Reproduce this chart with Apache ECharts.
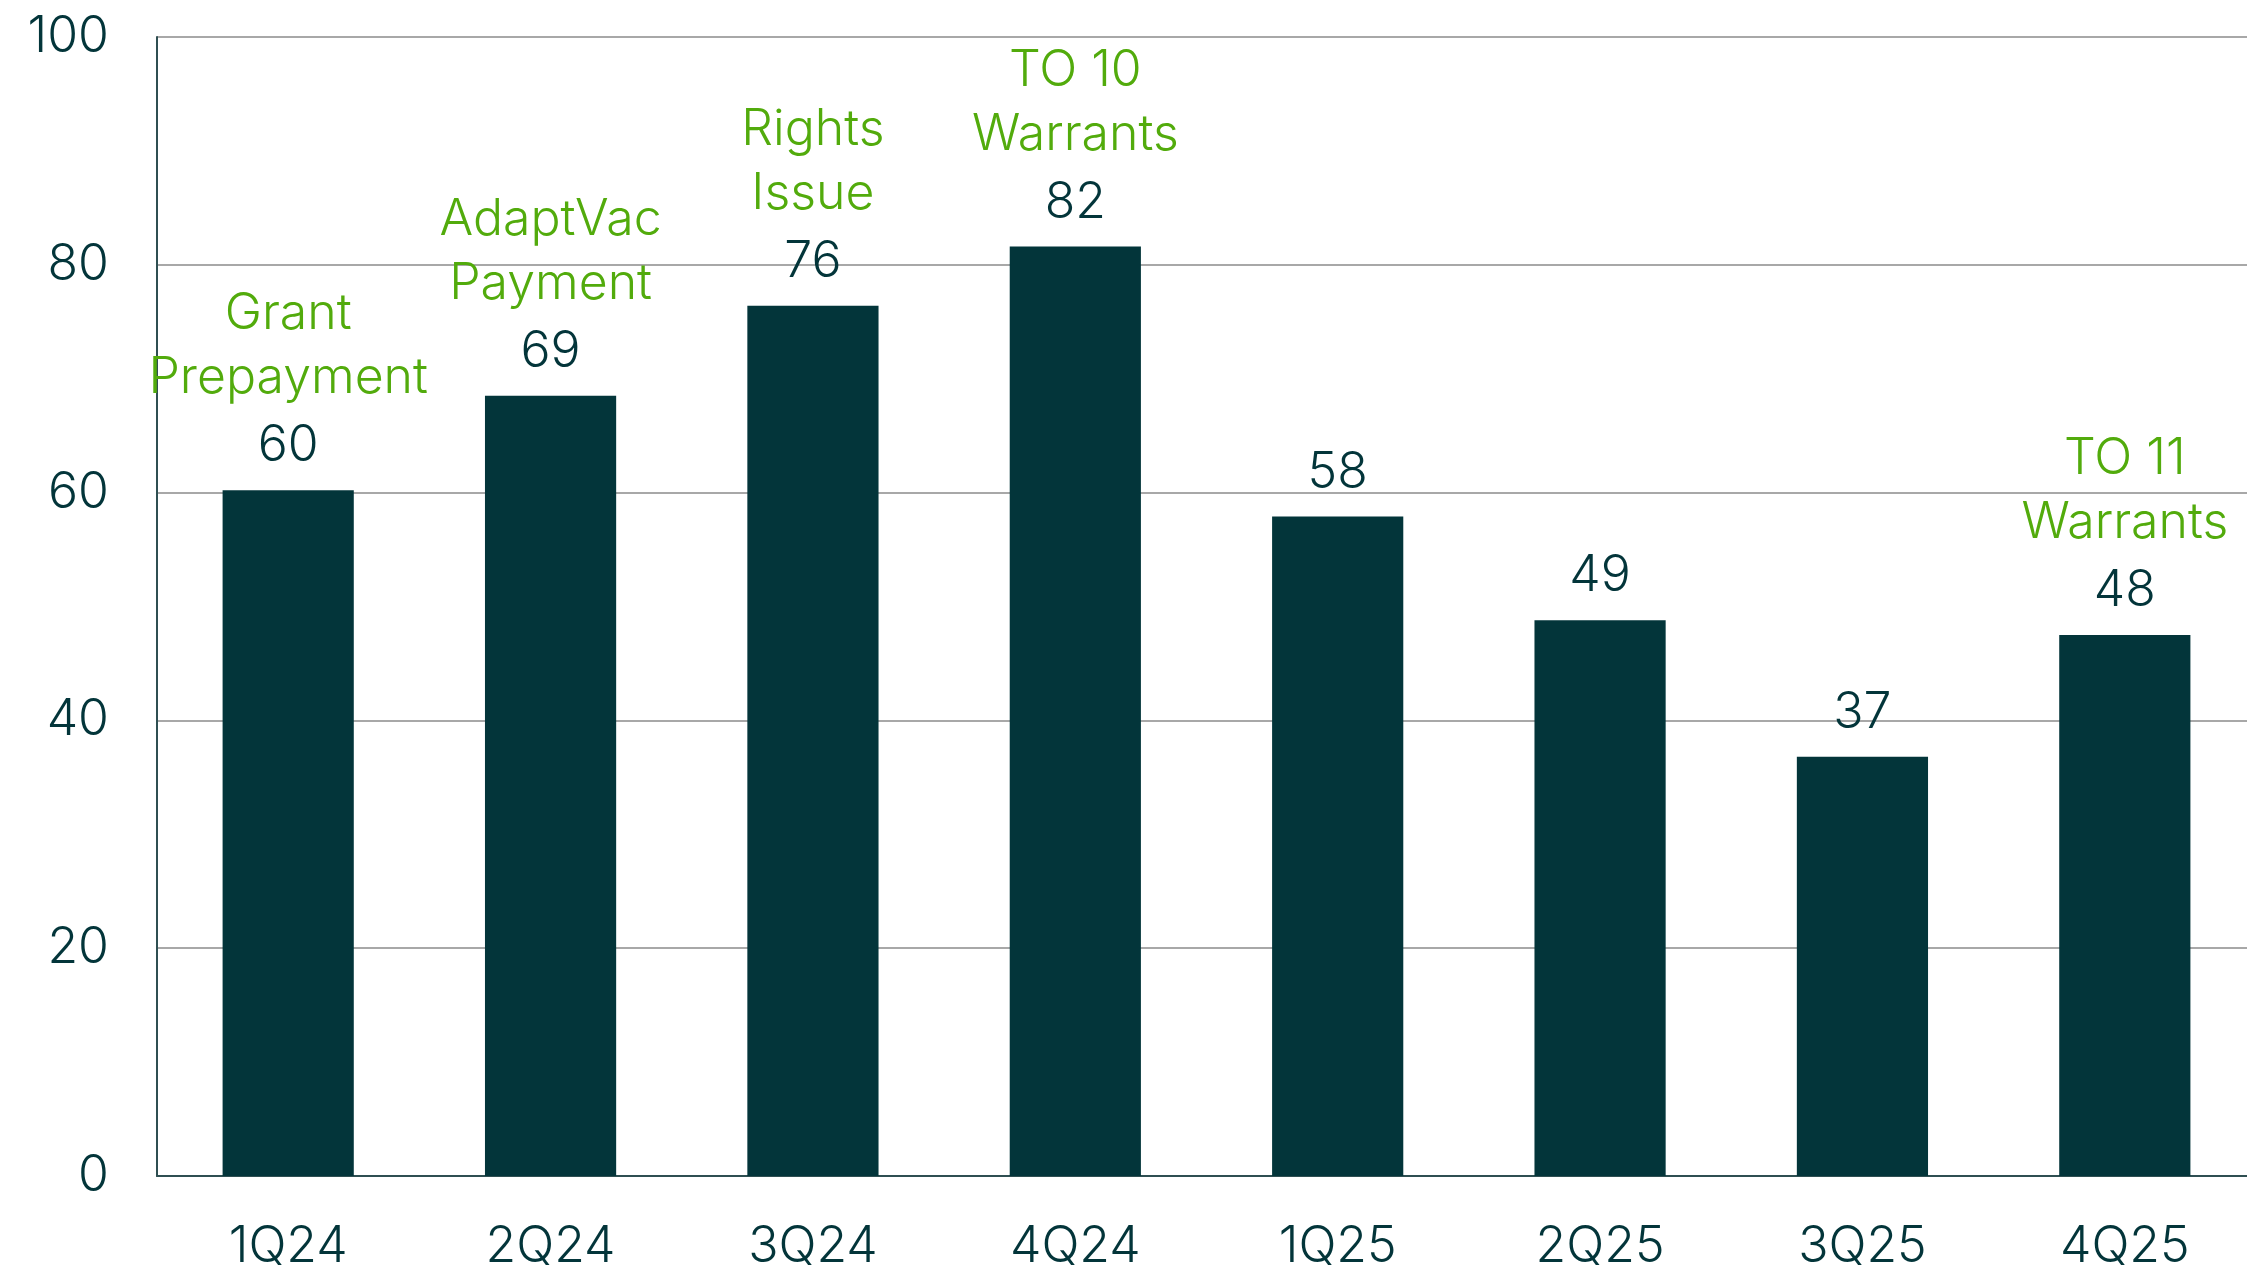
<!DOCTYPE html>
<html>
<head>
<meta charset="utf-8">
<script src="https://cdn.jsdelivr.net/npm/echarts@6/dist/echarts.min.js"></script>
<style>
  html, body { margin: 0; padding: 0; background: #fff; }
  #chart { width: 2247px; height: 1269px; }
</style>
</head>
<body>
<div id="chart"></div>
<script>
// quarters on the x axis
var quarters = ['1Q24', '2Q24', '3Q24', '4Q24', '1Q25', '2Q25', '3Q25', '4Q25']
// bar heights
var values = [60.2, 68.5, 76.4, 81.6, 57.9, 48.8, 36.8, 47.5]
// printed value labels
var valueLabels = ['60', '69', '76', '82', '58', '49', '37', '48']
// green notes above some bars
var notes = [
  ['Grant', 'Prepayment'],
  ['AdaptVac', 'Payment'],
  ['Rights', 'Issue'],
  ['TO 10', 'Warrants'],
  [],
  [],
  [],
  ['TO 11', 'Warrants']
]
var yTicks = [0, 20, 40, 60, 80, 100]

var dark = '#03353a'
var green = '#52ab0c'
var font = 'Inter'

var chart = echarts.init(document.getElementById('chart'))

// the plot runs a bit past the right edge of the canvas, so no outer bounds clamping
var option = {
  animation: false,
  grid: { left: 157, width: 2099, top: 37, bottom: 93, outerBoundsMode: 'none' },
  xAxis: {
    type: 'category',
    data: quarters,
    axisTick: { show: false },
    axisLine: { lineStyle: { color: '#2f4f52', width: 2 } },
    axisLabel: {
      margin: 46,
      color: dark,
      fontFamily: font,
      fontWeight: 300,
      fontSize: 50
    }
  },
  yAxis: {
    type: 'value',
    min: yTicks[0],
    max: yTicks[yTicks.length - 1],
    interval: 20,
    axisLine: { show: true, lineStyle: { color: '#2f4f52', width: 2 } },
    axisTick: { show: false },
    splitLine: { lineStyle: { color: '#a8a8a8', width: 2 } },
    axisLabel: {
      margin: 48,
      color: dark,
      fontFamily: font,
      fontWeight: 300,
      fontSize: 50
    }
  },
  series: [
    {
      type: 'bar',
      data: values,
      barWidth: '50%',
      itemStyle: { color: dark },
      label: {
        show: true,
        position: 'top',
        distance: 8,
        formatter: function (p) {
          var lines = notes[p.dataIndex].map(function (t) { return '{n|' + t + '}' })
          lines.push('{v|' + valueLabels[p.dataIndex] + '}')
          return lines.join('\n')
        },
        rich: {
          n: { color: green, fontFamily: font, fontWeight: 300, fontSize: 50, lineHeight: 64, align: 'center' },
          v: { color: dark, fontFamily: font, fontWeight: 300, fontSize: 50, lineHeight: 72, align: 'center' }
        }
      }
    }
  ]
}

chart.setOption(option)
</script>
</body>
</html>
